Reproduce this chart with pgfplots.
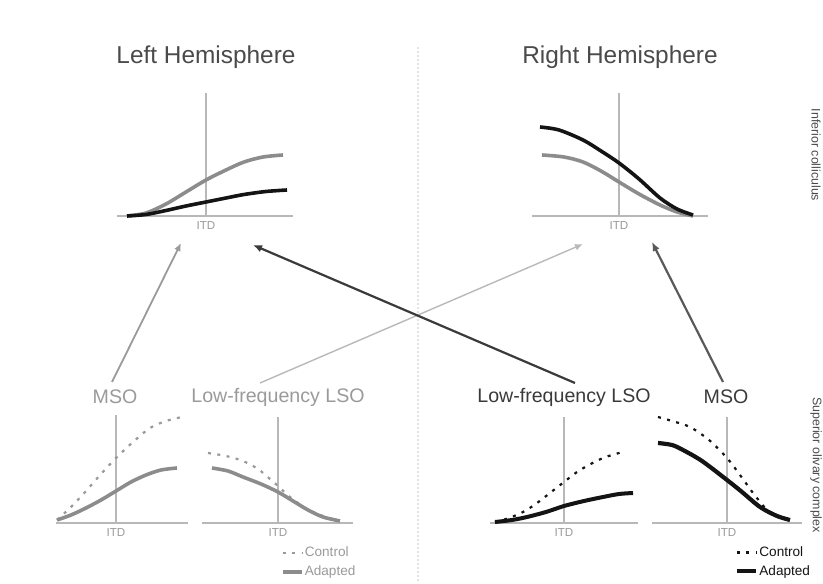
\documentclass[border=0pt]{standalone}
\usepackage{pgfplots}
\pgfplotsset{compat=1.18}
\usepackage{fontspec}
\setmainfont{Liberation Sans}
\usetikzlibrary{arrows.meta}

\definecolor{axisgray}{HTML}{B8B8B8}
\definecolor{curvegray}{HTML}{8C8C8C}
\definecolor{dashgray}{HTML}{9A9A9A}
\definecolor{curveblack}{HTML}{141414}
\definecolor{labelgray}{HTML}{9A9A9A}
\definecolor{labeldark}{HTML}{3A3A3A}
\definecolor{titlegray}{HTML}{4A4A4A}

\tikzset{
  itd/.style={anchor=north, font=\fontsize{5.8}{6}\selectfont, text=labelgray, inner sep=0pt, yshift=-2.6pt},
}

\pgfplotsset{
  panel/.style={
    anchor=south west, x=0.5pt, y=0.5pt, ymin=0,
    axis lines=middle,
    axis line style={draw=axisgray, line width=1.1pt, -},
    xtick=\empty, ytick=\empty, clip=false,
  },
  gray adapted/.style={draw=curvegray, line width=1.8pt, smooth, no markers},
  gray control/.style={draw=dashgray, line width=1.1pt, dash pattern=on 1.5pt off 3.2pt, smooth, no markers},
  black adapted/.style={draw=curveblack, line width=1.8pt, smooth, no markers},
  black control/.style={draw=curveblack, line width=1.1pt, dash pattern=on 1.5pt off 3.2pt, smooth, no markers},
  small legend/.style={
    legend cell align=left,
    legend image code/.code={\draw[##1, sharp plot] (0pt,0pt) -- (9.5pt,0pt);},
    legend style={draw=none, fill=none, inner sep=0pt, outer sep=0pt,
      font=\fontsize{6.8}{7}\selectfont, row sep=2.2pt,
      nodes={inner sep=0.6pt, text height=5pt, text depth=1pt},
      anchor=north west},
  },
}

\begin{document}
\begin{tikzpicture}
\useasboundingbox (0,0) rectangle (411.5pt,291.5pt);

% ---------------- upper row: ITD tuning in each hemisphere ----------------
\begin{axis}[panel, at={(58.5pt,183.5pt)}, xmin=-89, xmax=87, ymax=123]
  \addplot[gray adapted] coordinates {(-79,0) (-60,3) (-40,12) (-20,24) (0,36) (20,46) (38,54) (57,59) (77,61)};
  \addplot[black adapted] coordinates {(-79,0) (-60,1.5) (-40,5.5) (-20,10) (0,14) (20,18) (38,21.5) (60,24.5) (81,26)};
  \node[itd] at (axis cs:0,0) {ITD};
\end{axis}

\begin{axis}[panel, at={(266pt,183.5pt)}, xmin=-87, xmax=89, ymax=123]
  \addplot[gray adapted] coordinates {(-77,61) (-55,59) (-36,54) (-18,45) (0,34) (20,22) (41,11) (58,4) (74,0)};
  \addplot[black adapted] coordinates {(-79,89) (-60,86) (-36,76) (-18,65) (0,53) (20,37) (41,18) (58,7) (74,1)};
  \node[itd] at (axis cs:0,0) {ITD};
\end{axis}

% ---------------- lower row: brainstem inputs ----------------
\begin{axis}[panel, at={(28pt,30pt)}, xmin=-60, xmax=72, ymax=108]
  \addplot[gray control] coordinates {(-59,3) (-44,17) (-30,32) (-15,49) (0,65) (17,81) (34,95) (50,102) (66,106)};
  \addplot[gray adapted] coordinates {(-59,3) (-45,8) (-30,15) (-15,23) (0,32) (15,41) (30,48) (45,53) (61,55)};
  \node[itd] at (axis cs:0,0) {ITD};
\end{axis}

\begin{axis}[panel, small legend, at={(101pt,30pt)}, xmin=-76, xmax=75, ymax=106,
    legend style={at={(0.523,-0.215)}, text=labelgray}]
  \addplot[gray control] coordinates {(-70,70) (-52,67) (-35,62) (-20,54) (-8,44) (0,37) (12,26) (29,14) (45,7) (58,3)};
  \addlegendentry{Control}
  \addplot[gray adapted] coordinates {(-66,55) (-50,52) (-35,46) (-17,39) (0,31) (15,22) (30,13) (45,6) (62,2)};
  \addlegendentry{Adapted}
  \node[itd] at (axis cs:0,0) {ITD};
\end{axis}

\begin{axis}[panel, at={(245pt,30pt)}, xmin=-74, xmax=74, ymax=106]
  \addplot[black control] coordinates {(-69,1) (-55,5) (-41,11) (-27,20) (0,41) (16,53) (39,65) (59,71)};
  \addplot[black adapted, line width=2pt] coordinates {(-69,1) (-52,3) (-37,6) (-18,11) (0,17) (20,22) (39,26) (55,29) (69,30)};
  \node[itd] at (axis cs:0,0) {ITD};
\end{axis}

\begin{axis}[panel, small legend, at={(326pt,30pt)}, xmin=-75, xmax=75, ymax=106,
    legend style={at={(0.553,-0.21)}, text=curveblack}]
  \addplot[black control] coordinates {(-69,106) (-55,102) (-37,96) (-18,83) (0,65) (13,48) (26,30) (38,15)};
  \addlegendentry{Control}
  \addplot[black adapted, line width=2.1pt] coordinates {(-69,80) (-55,78) (-44,73) (-25,62) (0,43) (15,31) (33,16) (50,7) (63,3)};
  \addlegendentry{Adapted}
  \node[itd] at (axis cs:0,0) {ITD};
\end{axis}

% ---------------- labels, divider and projections ----------------
\begin{scope}[x=0.5pt, y=-0.5pt, shift={(0,291.5pt)}]
  \draw[gray!22, line width=0.8pt, dash pattern=on 1pt off 1pt] (418,47) -- (418,583);

  \node[font=\fontsize{12.2}{14}\selectfont, text=titlegray] at (206,57) {Left Hemisphere};
  \node[font=\fontsize{12.2}{14}\selectfont, text=titlegray] at (620,57) {Right Hemisphere};

  \node[font=\fontsize{9.8}{11}\selectfont, text=labelgray] at (115,397) {MSO};
  \node[font=\fontsize{9.8}{11}\selectfont, text=labelgray] at (278,397) {Low-frequency LSO};
  \node[font=\fontsize{9.8}{11}\selectfont, text=labeldark] at (564,397) {Low-frequency LSO};
  \node[font=\fontsize{9.8}{11}\selectfont, text=labeldark] at (726,397) {MSO};

  \node[font=\fontsize{6.2}{7}\selectfont, text=titlegray, rotate=-90, inner sep=0.5pt] at (816,155) {Inferior colliculus};
  \node[font=\fontsize{6.2}{7}\selectfont, text=titlegray, rotate=-90, inner sep=0.5pt] at (816,465) {Superior olivary complex};

  \draw[-{Latex[length=4pt,width=3.4pt]}, draw=labelgray, fill=labelgray, line width=0.9pt] (112,382) -- (181,243);
  \draw[-{Latex[length=4pt,width=3.4pt]}, draw=gray!55, fill=gray!55, line width=0.7pt] (260,383) -- (583,244);
  \draw[-{Latex[length=4.5pt,width=3.8pt]}, draw=labeldark, fill=curveblack, line width=1.1pt] (575,383) -- (253,245);
  \draw[-{Latex[length=4.5pt,width=3.8pt]}, draw=gray!70!black, fill=curveblack, line width=1.1pt] (723,382) -- (652,242);
\end{scope}
\end{tikzpicture}
\end{document}
